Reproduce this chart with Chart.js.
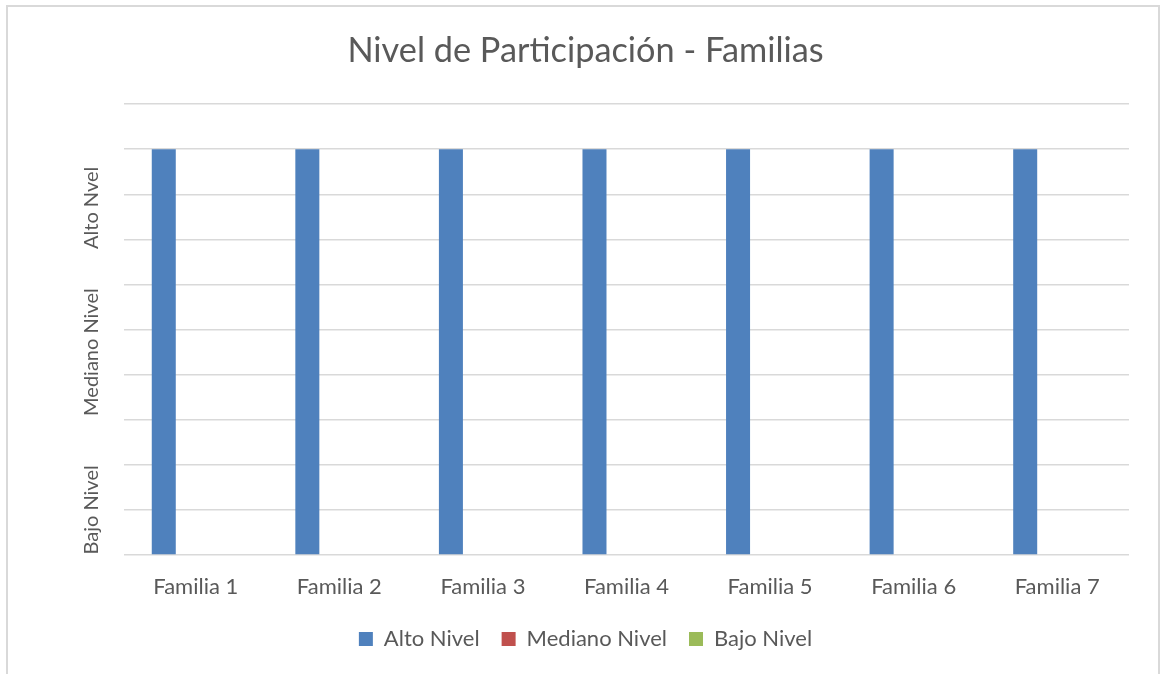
<!DOCTYPE html>
<html>
<head>
<meta charset="utf-8">
<script src="https://cdn.jsdelivr.net/npm/chart.js@4"></script>
<style>
    body { margin: 0; background: #fff; }
    #wrap { position: relative; width: 1161px; height: 674px; overflow: hidden; }
    #frame { position: absolute; left: 6px; top: 5px; width: 1150px; height: 700px;
             border: 2px solid #d9d9d9; border-bottom: none; }
    #holder { position: absolute; left: 0; top: 0; width: 1161px; height: 674px; }
</style>
</head>
<body>
<div id="wrap">
    <div id="frame"></div>
    <div id="holder"><canvas id="chart-nivel"></canvas></div>
</div>
<script>
const categories = ["Familia 1", "Familia 2", "Familia 3", "Familia 4", "Familia 5", "Familia 6", "Familia 7"];
const altoNivel = [9, 9, 9, 9, 9, 9, 9];
const medianoNivel = [0, 0, 0, 0, 0, 0, 0];
const bajoNivel = [0, 0, 0, 0, 0, 0, 0];
const levelLabels = ["Bajo Nivel", "Mediano Nivel", "Alto Nvel"];
const levelAt = [1, 4.5, 7.7];

const textColor = "#595959";
const fontFamily = "Lato, 'Open Sans', sans-serif";

// rotated level names along the left side
const levelTitles = {
    id: "levelTitles",
    afterDraw(chart) {
        const y = chart.scales.y;
        const c = chart.ctx;
        c.save();
        c.fillStyle = textColor;
        c.font = "20px " + fontFamily;
        c.textAlign = "center";
        c.textBaseline = "middle";
        levelLabels.forEach((txt, i) => {
            c.save();
            c.translate(92, y.getPixelForValue(levelAt[i]));
            c.rotate(-Math.PI / 2);
            c.fillText(txt, 0, 0);
            c.restore();
        });
        c.restore();
    }
};

const ctx = document.getElementById("chart-nivel").getContext("2d");

new Chart(ctx, {
    type: "bar",
    data: {
        labels: categories,
        datasets: [
            { label: "Alto Nivel", data: altoNivel, backgroundColor: "#4f81bd" },
            { label: "Mediano Nivel", data: medianoNivel, backgroundColor: "#c0504d" },
            { label: "Bajo Nivel", data: bajoNivel, backgroundColor: "#9bbb59" }
        ]
    },
    options: {
        responsive: true,
        maintainAspectRatio: false,
        animation: false,
        datasets: { bar: { categoryPercentage: 0.669, barPercentage: 0.75, borderWidth: 0 } },
        layout: { padding: { left: 10, right: 0, top: 0, bottom: 14 } },
        plugins: {
            title: {
                display: true,
                text: "Nivel de Participación - Familias",
                color: textColor,
                font: { family: fontFamily, size: 34.3, weight: "normal" },
                padding: { top: 30, bottom: 33 }
            },
            legend: {
                position: "bottom",
                labels: {
                    color: textColor,
                    boxWidth: 14,
                    boxHeight: 14,
                    padding: 22,
                    font: { family: fontFamily, size: 22 }
                }
            },
            tooltip: { enabled: false }
        },
        scales: {
            x: {
                grid: { display: false, drawTicks: false },
                border: { display: false },
                ticks: { color: textColor, padding: 19, font: { family: fontFamily, size: 22 } },
                afterFit: scale => { scale.height = 51; }
            },
            y: {
                min: 0,
                max: 10,
                ticks: { display: false, stepSize: 1 },
                grid: { color: "#d9d9d9", lineWidth: 1.5, drawTicks: false },
                border: { display: false },
                afterFit: scale => { scale.width = 114; }
            },
            yRight: {
                position: "right",
                ticks: { display: false },
                grid: { display: false, drawTicks: false },
                border: { display: false },
                afterFit: scale => { scale.width = 32; }
            }
        }
    },
    plugins: [levelTitles]
});
</script>
</body>
</html>
